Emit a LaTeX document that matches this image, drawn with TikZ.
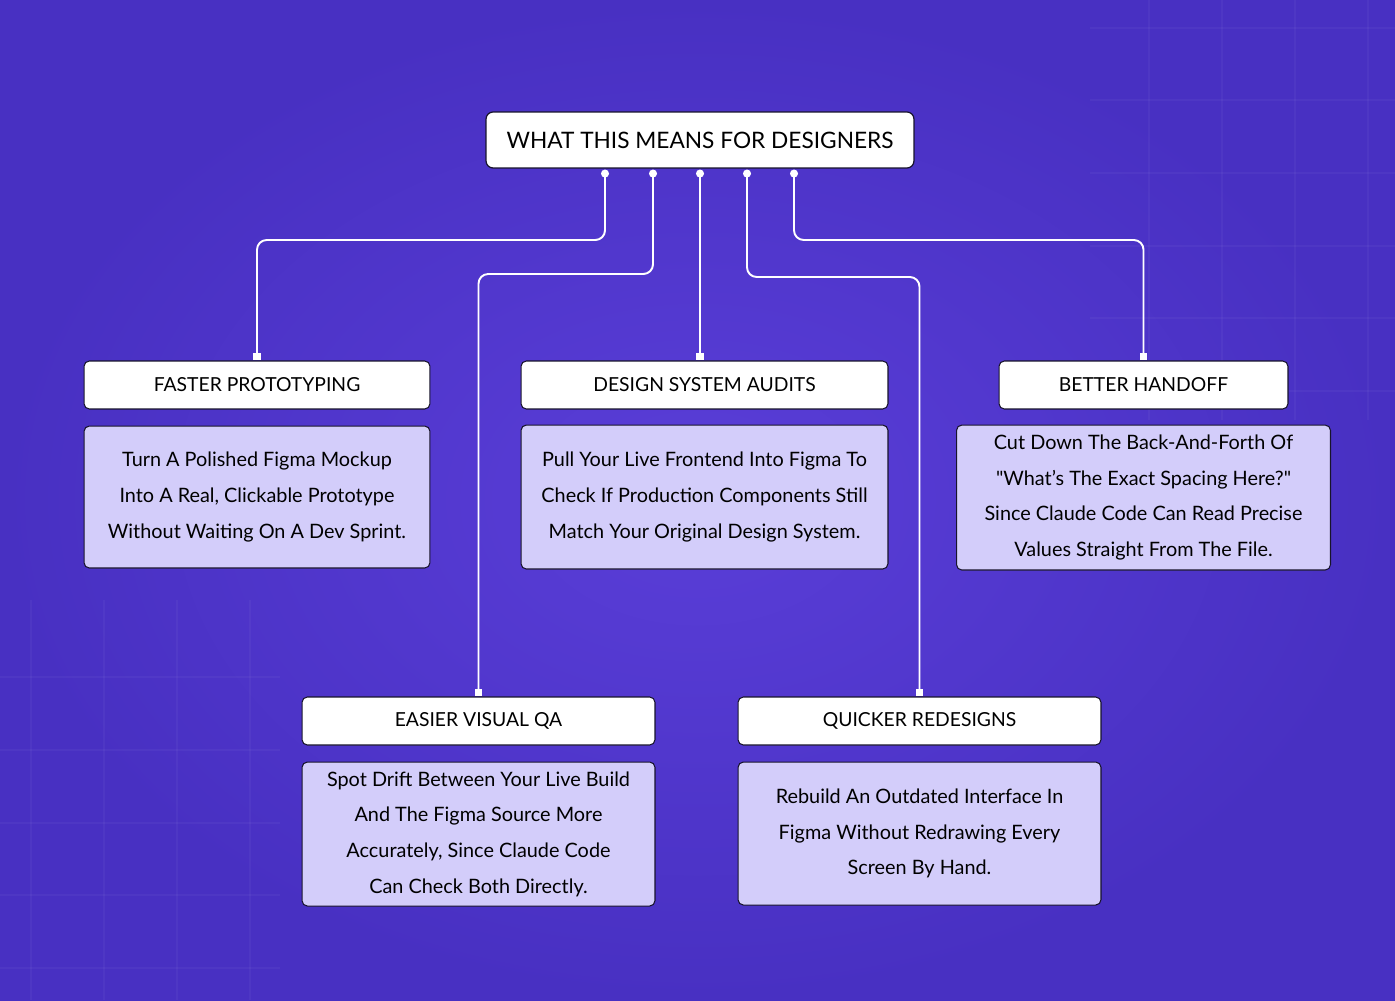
\documentclass[tikz,border=0pt]{standalone}
\usepackage{fontspec}
\setmainfont{Lato}[Ligatures=TeXOff]
\usepackage{tikz}
\usetikzlibrary{arrows.meta, positioning, calc}
\definecolor{bgin}{RGB}{90,62,216}
\definecolor{bgout}{RGB}{72,48,194}
\definecolor{cardfill}{RGB}{211,205,250}
\definecolor{edgedark}{RGB}{24,20,44}
\tikzset{
  titlebox/.style={rectangle, draw=edgedark, fill=white, inner sep=0pt,
    minimum width=8.56cm, minimum height=1.12cm,
    font=\fontsize{12.9}{15}\selectfont, rounded corners=4pt, line width=0.7pt},
  headbox/.style={rectangle, draw=edgedark, fill=white, inner sep=0pt,
    minimum height=0.96cm, font=\fontsize{11}{13}\selectfont,
    rounded corners=3pt, line width=0.6pt},
  cardbox/.style={rectangle, draw=edgedark, fill=cardfill, inner sep=0pt,
    align=center, font=\fontsize{11.3}{20.3}\selectfont,
    rounded corners=3pt, line width=0.6pt},
  conn/.style={draw=white, line width=1.1pt, rounded corners=5.5pt,
    {Circle[length=4.5pt]}-{Square[length=4.5pt, width=4.5pt]}},
  gridline/.style={white, opacity=0.035, line width=0.8pt}
}
\begin{document}
\begin{tikzpicture}[x=0.02cm, y=-0.02cm]
  \useasboundingbox (0,0) rectangle (1395,1000);
  % Background
  \shade[inner color=bgin, outer color=bgout] (0,0) rectangle (1395,1000);
  \foreach \gx in {1149,1222,1295,1368} \draw[gridline] (\gx,0) -- (\gx,420);
  \foreach \gy in {28,100,173,246,318,391} \draw[gridline] (1090,\gy) -- (1395,\gy);
  \foreach \gx in {31,104,177,250} \draw[gridline] (\gx,600) -- (\gx,1000);
  \foreach \gy in {677,750,823,895,968} \draw[gridline] (0,\gy) -- (280,\gy);

  % Title
  \node[titlebox] (title) at (700,140) {WHAT THIS MEANS FOR DESIGNERS};

  % Headings
  \node[headbox, minimum width=6.92cm] (fph) at (257,385) {FASTER PROTOTYPING};
  \node[headbox, minimum width=7.34cm] (dsh) at (704.5,385) {DESIGN SYSTEM AUDITS};
  \node[headbox, minimum width=5.78cm] (bhh) at (1143.5,385) {BETTER HANDOFF};
  \node[headbox, minimum width=7.06cm] (evh) at (478.5,721) {EASIER VISUAL QA};
  \node[headbox, minimum width=7.26cm] (qrh) at (919.5,721) {QUICKER REDESIGNS};

  % Cards
  \node[cardbox, minimum width=6.92cm, minimum height=2.84cm, below=0.32cm of fph] (fpc)
    {Turn A Polished Figma Mockup\\Into A Real, Clickable Prototype\\Without Waiting On A Dev Sprint.};
  \node[cardbox, minimum width=7.34cm, minimum height=2.88cm, below=0.3cm of dsh] (dsc)
    {Pull Your Live Frontend Into Figma To\\Check If Production Components Still\\Match Your Original Design System.};
  \node[cardbox, minimum width=7.48cm, minimum height=2.9cm, below=0.3cm of bhh] (bhc)
    {Cut Down The Back-And-Forth Of\\"What’s The Exact Spacing Here?"\\Since Claude Code Can Read Precise\\Values Straight From The File.};
  \node[cardbox, minimum width=7.06cm, minimum height=2.88cm, below=0.32cm of evh] (evc)
    {Spot Drift Between Your Live Build\\And The Figma Source More\\Accurately, Since Claude Code\\Can Check Both Directly.};
  \node[cardbox, minimum width=7.26cm, minimum height=2.86cm, below=0.32cm of qrh] (qrc)
    {Rebuild An Outdated Interface In\\Figma Without Redrawing Every\\Screen By Hand.};

  % Connectors
  \coordinate (d1) at ($(title.south)+(-95,1)$);
  \coordinate (d2) at ($(title.south)+(-47,1)$);
  \coordinate (d3) at ($(title.south)+(0,1)$);
  \coordinate (d4) at ($(title.south)+(47,1)$);
  \coordinate (d5) at ($(title.south)+(94,1)$);
  \draw[conn] (d1) -- (d1 |- 0,240) -| (fph.north);
  \draw[conn] (d2) -- (d2 |- 0,274) -| (evh.north);
  \draw[conn] (d3) -- (d3 |- dsh.north);
  \draw[conn] (d4) -- (d4 |- 0,277) -| (qrh.north);
  \draw[conn] (d5) -- (d5 |- 0,240) -| (bhh.north);
\end{tikzpicture}
\end{document}
